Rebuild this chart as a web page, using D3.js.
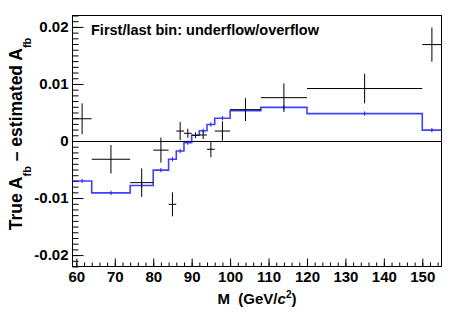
<!DOCTYPE html>
<html>
<head>
<meta charset="utf-8">
<script src="https://cdn.jsdelivr.net/npm/d3@7"></script>
<style>
  html, body { margin: 0; padding: 0; background: #fff; }
  svg { display: block; }
  text { font-family: "Liberation Sans", Arial, Helvetica, sans-serif; font-weight: bold; white-space: pre; }
</style>
</head>
<body>
<svg id="chart" width="463" height="315"></svg>
<script>
// ---- data ----
const binEdges   = [59, 64, 74, 80, 84, 86, 88, 90, 92, 94, 96, 100, 108, 120, 150, 155];
const dataValues = [0.0039, -0.0032, -0.0073, -0.0016, -0.0111, 0.00175, 0.00135, 0.0010, 0.00105, -0.00145, 0.00175, 0.0055, 0.0076, 0.0092, 0.0169];
const dataErrors = [0.0027, 0.0025, 0.0025, 0.0022, 0.0021, 0.0016, 0.0008, 0.0005, 0.0007, 0.0014, 0.0017, 0.0020, 0.0025, 0.0026, 0.0030];
const estValues  = [-0.0070, -0.0091, -0.0078, -0.0051, -0.0032, -0.00175, -0.0003, 0.0010, 0.0018, 0.0029, 0.0040, 0.0053, 0.0059, 0.0048, 0.0019];
const estErrors  = [0.0002, 0.0002, 0.0002, 0.0002, 0.0002, 0.0002, 0.0002, 0.0002, 0.0002, 0.0002, 0.0002, 0.0002, 0.0002, 0.0002, 0.0002];
const xMajorTicks = [60, 70, 80, 90, 100, 110, 120, 130, 140, 150];
const yMajorTicks = [-0.02, -0.01, 0, 0.01, 0.02];
const yTickLabels = ["-0.02", "-0.01", "0", "0.01", "0.02"];
const xDomain = [59, 155];
const yDomain = [-0.022, 0.022];
const legendText = "First/last bin: underflow/overflow";

// ---- layout ----
const svg = d3.select("#chart");
const L = 72.5, R = 441.5, T = 15.5, B = 266.5;
const x = d3.scaleLinear().domain(xDomain).range([L, R]);
const y = d3.scaleLinear().domain(yDomain).range([B, T]);

// minor ticks
const xMinor = d3.range(60, 155.01, 2);
const yMinor = d3.range(-22, 22.01, 1).map(v => v / 1000);

const gx = svg.append("g").attr("transform", `translate(0,${B})`);
gx.call(d3.axisBottom(x).tickValues(xMinor).tickSize(-4).tickFormat(""))
  .call(g => g.select(".domain").remove());
const gx2 = svg.append("g").attr("transform", `translate(0,${B})`);
gx2.call(d3.axisBottom(x).tickValues(xMajorTicks).tickSize(-8).tickPadding(5).tickFormat(d3.format("d")))
  .call(g => g.select(".domain").remove());
gx2.selectAll("text").attr("font-size", 15).attr("fill", "#000");

const gy = svg.append("g").attr("transform", `translate(${L},0)`);
gy.call(d3.axisLeft(y).tickValues(yMinor).tickSize(-6).tickFormat(""))
  .call(g => g.select(".domain").remove());
const gy2 = svg.append("g").attr("transform", `translate(${L},0)`);
gy2.call(d3.axisLeft(y).tickValues(yMajorTicks).tickSize(-11).tickPadding(4)
        .tickFormat((d, i) => yTickLabels[i]))
  .call(g => g.select(".domain").remove());
gy2.selectAll("text").attr("font-size", 15).attr("fill", "#000");
svg.selectAll(".tick line").attr("stroke", "#000").attr("stroke-width", 1);

// frame
svg.append("rect").attr("x", L).attr("y", T).attr("width", R - L).attr("height", B - T)
  .attr("fill", "none").attr("stroke", "#000").attr("stroke-width", 1);

// zero line
svg.append("line").attr("x1", L).attr("x2", R).attr("y1", Math.round(y(0)) + 0.5).attr("y2", Math.round(y(0)) + 0.5)
  .attr("stroke", "#000").attr("stroke-width", 1);

// estimated histogram (blue step)
const bins = estValues.map((v, i) => ({ lo: binEdges[i], hi: binEdges[i + 1], v, e: estErrors[i] }));
let dStr = "";
bins.forEach((b, i) => {
  if (i === 0) dStr += `M${x(b.lo)},${y(b.v)}`;
  else dStr += `L${x(b.lo)},${y(b.v)}`;
  dStr += `L${x(b.hi)},${y(b.v)}`;
});
svg.append("path").attr("d", dStr).attr("fill", "none")
  .attr("stroke", "#1e1eff").attr("stroke-width", 1.6).attr("stroke-opacity", 0.85);
svg.append("g").selectAll("line").data(bins).join("line")
  .attr("x1", d => x((d.lo + d.hi) / 2)).attr("x2", d => x((d.lo + d.hi) / 2))
  .attr("y1", d => y(d.v - d.e) + 1).attr("y2", d => y(d.v + d.e) - 1)
  .attr("stroke", "#1e1eff").attr("stroke-width", 1);

// data crosses
const pts = dataValues.map((v, i) => ({ lo: binEdges[i], hi: binEdges[i + 1], v, e: dataErrors[i] }));
const gp = svg.append("g").attr("stroke", "#000").attr("stroke-width", 1);
gp.selectAll("line.h").data(pts).join("line").attr("class", "h")
  .attr("x1", d => x(d.lo)).attr("x2", d => x(d.hi))
  .attr("y1", d => y(d.v)).attr("y2", d => y(d.v));
gp.selectAll("line.v").data(pts).join("line").attr("class", "v")
  .attr("x1", d => x((d.lo + d.hi) / 2)).attr("x2", d => x((d.lo + d.hi) / 2))
  .attr("y1", d => y(d.v - d.e)).attr("y2", d => y(d.v + d.e));

// legend text
svg.append("text").attr("x", 91).attr("y", 34.5).attr("font-size", 14.5).attr("fill", "#000").text(legendText);

// x title
const xt = svg.append("text").attr("x", (L + R) / 2).attr("y", 304).attr("text-anchor", "middle")
  .attr("font-size", 15).attr("fill", "#000");
xt.append("tspan").text("M\u00a0\u00a0(GeV/");
xt.append("tspan").attr("font-style", "italic").text("c");
xt.append("tspan").attr("font-size", 10).attr("dy", -6).text("2");
xt.append("tspan").attr("dy", 6).text(")");

// y title
const yt = svg.append("text").attr("transform", `translate(22,134) rotate(-90)`).attr("text-anchor", "middle")
  .attr("font-size", 17.5).attr("fill", "#000");
yt.append("tspan").text("True A");
yt.append("tspan").attr("font-size", 11).attr("dy", 9).text("fb");
yt.append("tspan").attr("dy", -9).text(" \u2013 estimated A");
yt.append("tspan").attr("font-size", 11).attr("dy", 9).text("fb");
</script>
</body>
</html>
